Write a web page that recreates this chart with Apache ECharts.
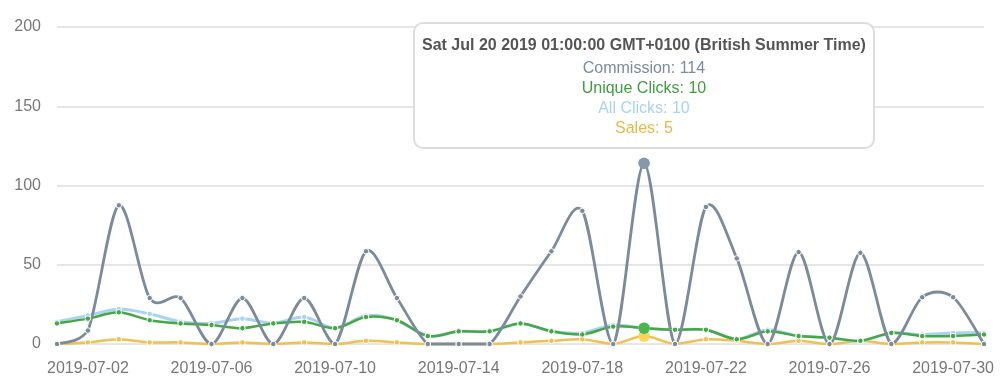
<!DOCTYPE html>
<html>
<head>
<meta charset="utf-8">
<script src="https://cdn.jsdelivr.net/npm/echarts@6/dist/echarts.min.js"></script>
<style>
html,body{margin:0;padding:0;background:#fff;}
#chart{width:1004px;height:392px;}
</style>
</head>
<body>
<div id="chart"></div>
<script>
const categories = ['2019-07-01','2019-07-02','2019-07-03','2019-07-04','2019-07-05','2019-07-06','2019-07-07','2019-07-08','2019-07-09','2019-07-10','2019-07-11','2019-07-12','2019-07-13','2019-07-14','2019-07-15','2019-07-16','2019-07-17','2019-07-18','2019-07-19','2019-07-20','2019-07-21','2019-07-22','2019-07-23','2019-07-24','2019-07-25','2019-07-26','2019-07-27','2019-07-28','2019-07-29','2019-07-30','2019-07-31'];
const commission = [0, 8.5, 87.5, 29, 29, 0, 29, 0, 29, 0, 58.5, 29, 0, 0, 0, 30, 58.5, 84, 0, 114, 0, 86.5, 54, 0, 58, 0, 57.5, 0, 29.5, 29.5, 0];
const uniqueClicks = [13,16,20,15,13,12,10,13,14,10,17,15,5,8,8,13,8,6,11,10,9,9,3,8,5,4,2,7,5,5,6];
const allClicks = [14,18,22,19,14,13,16,13,17,10,18,15,5,8,8,13,8,7,12,10,9,9,3,9,5,4,2,7,6,7,7];
const sales = [0,1,3,1,1,0,1,0,1,0,2,1,0,0,0,1,2,3,0,5,0,3,2,0,2,0,2,0,1,1,0];
const yTicks = [0, 50, 100, 150, 200];
const hoverIndex = 19;

const colors = {
  'Commission': '#7b8b9b',
  'Unique Clicks': '#45a845',
  'All Clicks': '#a9d2f3',
  'Sales': '#f2c04e'
};
const textColors = {
  'Commission': '#7b8b9b',
  'Unique Clicks': '#3f9e3f',
  'All Clicks': '#a9d2f3',
  'Sales': '#e9b847'
};
const tipOrder = ['Commission','Unique Clicks','All Clicks','Sales'];
const drawOrder = [['Sales', sales, 2.5], ['All Clicks', allClicks, 3], ['Unique Clicks', uniqueClicks, 2.5], ['Commission', commission, 2.8]];
const TENSION_A = 0.15;

function titleFor(cat) {
  const p = cat.split('-').map(Number);
  const d = new Date(Date.UTC(p[0], p[1]-1, p[2]));
  const wd = ['Sun','Mon','Tue','Wed','Thu','Fri','Sat'][d.getUTCDay()];
  const mo = ['Jan','Feb','Mar','Apr','May','Jun','Jul','Aug','Sep','Oct','Nov','Dec'][p[1]-1];
  return wd + ' ' + mo + ' ' + String(p[2]).padStart(2,'0') + ' ' + p[0] + ' 01:00:00 GMT+0100 (British Summer Time)';
}

// cardinal spline curve drawn through the library's coordinate system
function curveSeries(name, data, width) {
  return {
    name: name + ' curve',
    type: 'custom',
    data: data.map((v, i) => [i, v]),
    z: 2,
    silent: true,
    tooltip: { show: false },
    encode: { x: 0, y: 1 },
    renderItem: function (params, api) {
      if (params.dataIndex !== 0) return null;
      const pts = data.map((v, i) => api.coord([i, v]));
      const yBase = api.coord([0, yTicks[0]])[1];
      const n = pts.length;
      const P = i => pts[Math.max(0, Math.min(n - 1, i))];
      const cl = y => Math.min(y, yBase);
      let d = 'M' + pts[0][0] + ',' + pts[0][1];
      for (let i = 0; i < n - 1; i++) {
        const p0 = P(i - 1), p1 = P(i), p2 = P(i + 1), p3 = P(i + 2);
        const c1x = p1[0] + TENSION_A * (p2[0] - p0[0]);
        const c1y = cl(p1[1] + TENSION_A * (p2[1] - p0[1]));
        const c2x = p2[0] - TENSION_A * (p3[0] - p1[0]);
        const c2y = cl(p2[1] - TENSION_A * (p3[1] - p1[1]));
        d += 'C' + c1x + ',' + c1y + ',' + c2x + ',' + c2y + ',' + p2[0] + ',' + p2[1];
      }
      return {
        type: 'path',
        shape: { pathData: d },
        style: { fill: 'none', stroke: colors[name], lineWidth: width, lineJoin: 'round', lineCap: 'round' }
      };
    }
  };
}

function pointSeries(name, data) {
  return {
    name: name,
    type: 'line',
    data: data,
    z: 3,
    symbol: 'circle',
    symbolSize: 5.5,
    showSymbol: true,
    lineStyle: { opacity: 0, width: 0 },
    itemStyle: { color: colors[name], borderColor: '#ffffff', borderWidth: 1 },
    emphasis: { scale: 2.1, focus: 'none', lineStyle: { opacity: 0, width: 0 }, itemStyle: { borderWidth: 0 } }
  };
}

const chart = echarts.init(document.getElementById('chart'), null, { renderer: 'canvas' });
const series = [];
drawOrder.forEach(s => series.push(curveSeries(s[0], s[1], s[2])));
drawOrder.forEach(s => series.push(pointSeries(s[0], s[1])));

chart.setOption({
  animation: false,
  textStyle: { fontFamily: 'Liberation Sans, Arial, sans-serif' },
  grid: { left: 57, right: 20, top: 27, bottom: 48, containLabel: false },
  tooltip: {
    trigger: 'axis',
    alwaysShowContent: true,
    axisPointer: { type: 'none' },
    backgroundColor: 'rgba(255,255,255,0.95)',
    borderColor: '#dddddd',
    borderWidth: 2,
    borderRadius: 10,
    padding: [11, 7, 9, 7],
    extraCssText: 'box-shadow:none;text-align:center;border-radius:10px;',
    position: function (point, params, dom, rect, size) {
      const px = chart.convertToPixel({ xAxisIndex: 0, yAxisIndex: 0 }, [hoverIndex, 0])[0];
      return [px - size.contentSize[0] / 2, 22];
    },
    formatter: function (params) {
      const byName = {};
      params.forEach(p => { if (p.seriesType === 'line') byName[p.seriesName] = p.value; });
      let html = '<div style="font-weight:bold;color:#555;font-size:16px;line-height:20px;margin-bottom:3px;">' + titleFor(params[0].name) + '</div>';
      tipOrder.forEach(n => {
        html += '<div style="color:' + textColors[n] + ';font-size:16px;line-height:20px;">' + n + ': ' + byName[n] + '</div>';
      });
      return html;
    }
  },
  xAxis: {
    type: 'category',
    boundaryGap: false,
    data: categories,
    axisLine: { show: false },
    axisTick: { show: false },
    axisLabel: {
      color: '#777',
      fontSize: 16,
      margin: 17,
      interval: function (idx) { return idx % 4 === 1; }
    },
    splitLine: { show: false }
  },
  yAxis: {
    type: 'value',
    min: yTicks[0],
    max: yTicks[yTicks.length - 1],
    interval: yTicks[1] - yTicks[0],
    axisLine: { show: false },
    axisTick: { show: false },
    axisLabel: { color: '#777', fontSize: 16, margin: 16 },
    splitLine: { lineStyle: { color: '#dedede', width: 1.5 } }
  },
  series: series
});
chart.dispatchAction({ type: 'showTip', seriesIndex: 7, dataIndex: hoverIndex });
</script>
</body>
</html>
